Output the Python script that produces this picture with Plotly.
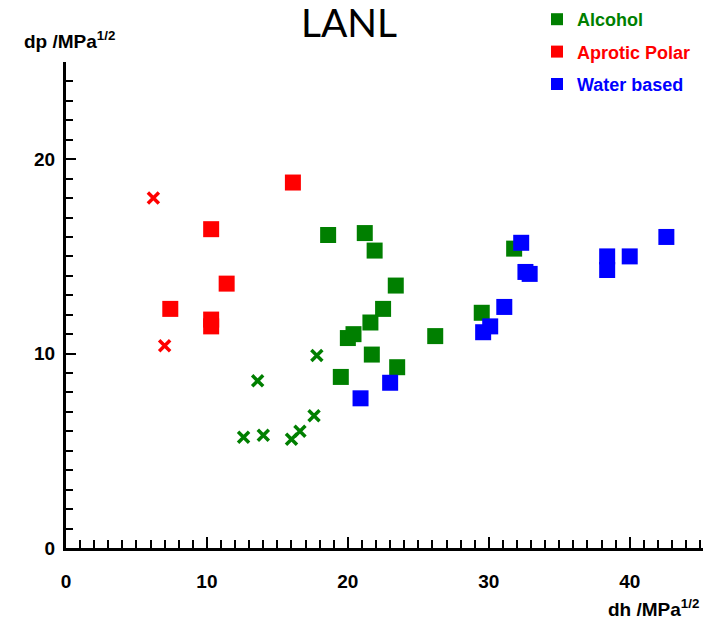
import plotly.graph_objects as go

# Hansen solubility components (dh, dp) in MPa^1/2
alcohol_sq_dh = [18.6, 21.2, 21.9, 23.4, 22.5, 21.6, 20.0, 20.4, 21.7, 23.5, 19.5, 26.2, 29.5, 31.8]
alcohol_sq_dp = [16.1, 16.2, 15.3, 13.5, 12.3, 11.6, 10.8, 11.0, 9.95, 9.3, 8.8, 10.9, 12.1, 15.4]
alcohol_x_dh = [12.6, 14.0, 16.0, 16.6, 17.6, 13.6, 17.8]
alcohol_x_dp = [5.7, 5.8, 5.6, 6.0, 6.8, 8.6, 9.9]

aprotic_sq_dh = [16.1, 10.3, 11.4, 7.4, 10.3, 10.3]
aprotic_sq_dp = [18.8, 16.4, 13.6, 12.3, 11.75, 11.4]
aprotic_x_dh = [6.2, 7.0]
aprotic_x_dp = [18.0, 10.4]

water_dh = [20.9, 23.0, 32.3, 32.6, 32.9, 31.1, 30.1, 29.6, 38.4, 38.4, 40.0, 42.6]
water_dp = [7.7, 8.5, 15.7, 14.2, 14.1, 12.4, 11.4, 11.1, 15.0, 14.3, 15.0, 16.0]

x_range = [0, 45.2]
y_range = [0, 25]

GREEN = "#007f00"
RED = "#ff0000"
BLUE = "#0000ff"
FAMILY = "Liberation Sans Narrow, Liberation Sans, Arial"
TICK_FONT = dict(family=FAMILY, size=19, color="black", weight="bold")

fig = go.Figure()

sq = dict(symbol="square", size=16)
xm = dict(symbol="x-thin", size=11)

fig.add_trace(go.Scatter(x=alcohol_sq_dh, y=alcohol_sq_dp, mode="markers",
                         name=f"<b><span style='color:{GREEN}'>Alcohol</span></b>",
                         legendgroup="a", marker=dict(color=GREEN, **sq)))
fig.add_trace(go.Scatter(x=aprotic_sq_dh, y=aprotic_sq_dp, mode="markers",
                         name=f"<b><span style='color:{RED}'>Aprotic Polar</span></b>",
                         legendgroup="b", marker=dict(color=RED, **sq)))
fig.add_trace(go.Scatter(x=water_dh, y=water_dp, mode="markers",
                         name=f"<b><span style='color:{BLUE}'>Water based</span></b>",
                         legendgroup="c", marker=dict(color=BLUE, **sq)))
fig.add_trace(go.Scatter(x=alcohol_x_dh, y=alcohol_x_dp, mode="markers", showlegend=False,
                         marker=dict(color=GREEN, line=dict(color=GREEN, width=3.5), **xm)))
fig.add_trace(go.Scatter(x=aprotic_x_dh, y=aprotic_x_dp, mode="markers", showlegend=False,
                         marker=dict(color=RED, line=dict(color=RED, width=3.5), **xm)))

axis_common = dict(
    showgrid=False, zeroline=False, showline=True, linecolor="black", linewidth=3,
    ticks="inside", tickcolor="black", tickwidth=2, dtick=10, tick0=0,
    tickfont=TICK_FONT,
    minor=dict(ticks="inside", dtick=1, tickcolor="black", tickwidth=2),
)

fig.update_xaxes(range=x_range, ticklen=11, minor_ticklen=8, ticklabelstandoff=14, **axis_common)
fig.update_yaxes(range=y_range, ticklen=10, minor_ticklen=7, ticklabelstandoff=4, **axis_common)

fig.update_layout(
    width=715, height=634,
    margin=dict(l=66, r=12, t=62, b=86, autoexpand=False),
    paper_bgcolor="white", plot_bgcolor="white",
    title=dict(text="LANL", x=349 / 715, xref="container", xanchor="center",
               y=1 - 23 / 634, yref="container", yanchor="middle",
               font=dict(family="Lato, Open Sans, sans-serif", size=39, color="black")),
    legend=dict(x=537 / 715, xref="container", xanchor="left",
                y=1 - 1 / 634, yref="container", yanchor="top",
                traceorder="grouped", tracegroupgap=6, itemsizing="constant",
                font=dict(family=FAMILY, size=18),
                bgcolor="rgba(0,0,0,0)"),
    showlegend=True,
    annotations=[
        dict(text="<b>dp /MPa<sup>1/2</sup></b>", xref="paper", yref="paper",
             x=(22 - 66) / 637, y=(548 - 40) / 486, xanchor="left", yanchor="middle",
             showarrow=False, font=dict(family=FAMILY, size=19, color="black")),
        dict(text="<b>dh /MPa<sup>1/2</sup></b>", xref="paper", yref="paper",
             x=(701 - 66) / 637, y=(548 - 608) / 486, xanchor="right", yanchor="middle",
             showarrow=False, font=dict(family=FAMILY, size=19, color="black")),
    ],
)

fig.write_html("out.html")
